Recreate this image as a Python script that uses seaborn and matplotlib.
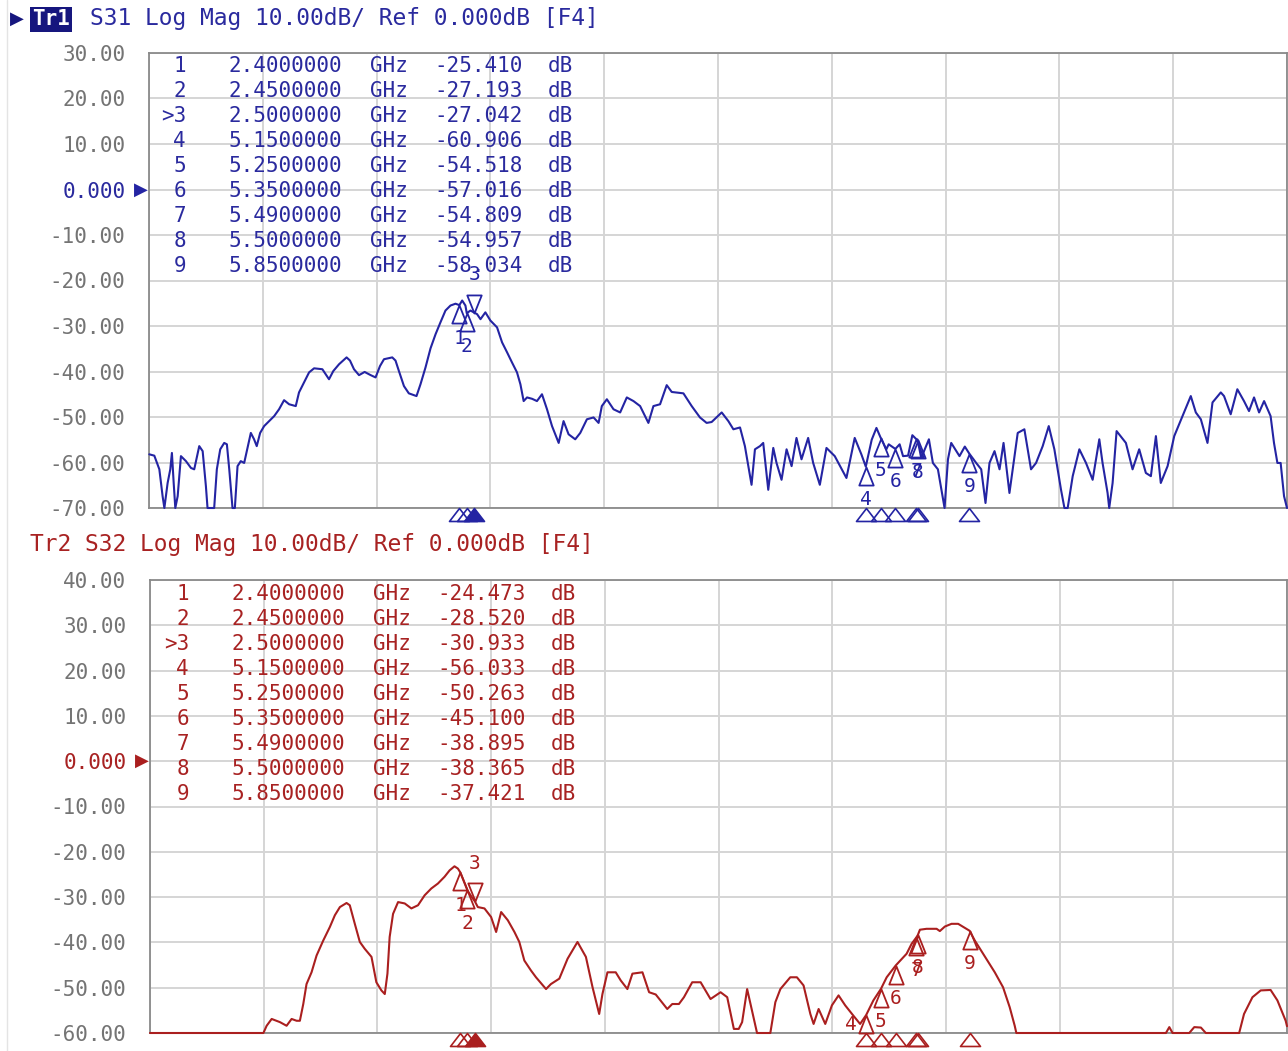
import numpy as np
import pandas as pd
import matplotlib
matplotlib.use("Agg")
import matplotlib.pyplot as plt
import matplotlib.transforms as mtransforms
from matplotlib.lines import Line2D
from matplotlib.path import Path
import seaborn as sns

# ---------------- measured traces (frequency in GHz, magnitude in dB) ----------------
s31_freq_ghz = [
    0.302, 0.336, 0.370, 0.392, 0.404, 0.426, 0.444, 0.455, 0.467, 0.478, 0.494, 0.516,
    0.550, 0.584, 0.606, 0.640, 0.663, 0.685, 0.696, 0.741, 0.759, 0.782, 0.809, 0.827,
    0.843, 0.865, 0.881, 0.899, 0.921, 0.944, 0.962, 0.989, 1.011, 1.029, 1.052, 1.079,
    1.113, 1.147, 1.180, 1.214, 1.248, 1.293, 1.315, 1.349, 1.383, 1.417, 1.473, 1.518,
    1.547, 1.586, 1.637, 1.660, 1.687, 1.721, 1.759, 1.800, 1.833, 1.863, 1.890, 1.946,
    1.968, 1.991, 2.025, 2.058, 2.110, 2.137, 2.171, 2.205, 2.239, 2.272, 2.306, 2.340,
    2.374, 2.419, 2.441, 2.475, 2.520, 2.543, 2.576, 2.610, 2.655, 2.689, 2.723, 2.756,
    2.790, 2.813, 2.835, 2.858, 2.892, 2.925, 2.959, 2.993, 3.027, 3.072, 3.105, 3.139,
    3.184, 3.218, 3.263, 3.308, 3.342, 3.364, 3.398, 3.443, 3.488, 3.533, 3.578, 3.623,
    3.679, 3.713, 3.758, 3.803, 3.837, 3.916, 3.972, 4.028, 4.073, 4.107, 4.175, 4.220,
    4.254, 4.299, 4.332, 4.355, 4.377, 4.400, 4.434, 4.456, 4.490, 4.524, 4.546, 4.580,
    4.614, 4.648, 4.681, 4.715, 4.760, 4.794, 4.839, 4.884, 4.940, 5.019, 5.075, 5.120,
    5.190, 5.222, 5.289, 5.305, 5.379, 5.402, 5.436, 5.465, 5.525, 5.577, 5.604, 5.638,
    5.683, 5.706, 5.728, 5.784, 5.820, 5.897, 5.931, 5.960, 5.987, 6.021, 6.055, 6.082,
    6.122, 6.178, 6.223, 6.268, 6.302, 6.347, 6.388, 6.426, 6.471, 6.494, 6.516, 6.550,
    6.595, 6.640, 6.685, 6.730, 6.752, 6.786, 6.797, 6.820, 6.847, 6.910, 6.955, 7.000,
    7.045, 7.079, 7.113, 7.146, 7.192, 7.237, 7.293, 7.349, 7.383, 7.417, 7.462, 7.496,
    7.552, 7.574, 7.619, 7.664, 7.709, 7.743, 7.777, 7.811, 7.845, 7.889, 7.912, 7.935,
    7.957, 7.980, 8.000,
]
s31_db = [
    -58.2, -58.5, -61.5, -67.4, -70.0, -64.5, -61.5, -57.9, -64.5, -70.0, -67.4, -58.6,
    -59.7, -61.2, -61.5, -56.4, -57.5, -65.2, -70.0, -70.0, -61.5, -57.1, -55.7, -56.0,
    -61.5, -70.0, -70.0, -60.8, -59.7, -60.1, -57.5, -53.5, -54.9, -56.4, -53.5, -52.0,
    -50.9, -49.8, -48.3, -46.3, -47.2, -47.6, -44.6, -42.4, -40.2, -39.3, -39.5, -41.7,
    -39.9, -38.4, -36.9, -37.6, -39.5, -40.8, -40.1, -40.8, -41.3, -38.8, -37.3, -36.9,
    -37.6, -39.9, -43.2, -44.8, -45.4, -42.8, -39.1, -34.9, -31.8, -29.2, -26.6, -25.5,
    -25.1, -24.4, -25.5, -26.6, -27.4, -28.5, -27.0, -28.8, -30.3, -33.6, -35.8, -38.0,
    -40.2, -42.8, -46.5, -45.7, -46.0, -46.5, -45.0, -48.3, -52.0, -55.7, -50.9, -53.8,
    -54.9, -53.5, -50.5, -50.1, -51.3, -47.6, -46.1, -48.3, -49.0, -45.7, -46.5, -47.6,
    -51.3, -47.6, -47.2, -43.0, -44.5, -44.8, -47.6, -50.1, -51.3, -51.1, -49.0, -50.9,
    -52.7, -52.3, -56.4, -60.8, -64.9, -57.1, -56.4, -55.7, -66.0, -56.8, -60.1, -63.8,
    -57.1, -60.8, -54.6, -59.3, -54.6, -60.1, -64.9, -56.8, -58.6, -63.4, -54.6, -58.2,
    -55.0, -52.4, -57.1, -56.0, -56.0, -58.6, -58.5, -54.0, -59.0, -54.9, -60.1, -61.5,
    -70.0, -59.3, -55.7, -58.6, -56.5, -60.1, -61.5, -68.9, -60.1, -57.5, -61.5, -55.7,
    -66.7, -53.5, -52.7, -61.5, -60.1, -56.4, -52.0, -57.1, -66.0, -70.0, -70.0, -63.0,
    -57.1, -60.1, -63.8, -54.9, -60.1, -66.7, -70.0, -64.5, -53.1, -55.7, -61.5, -57.1,
    -62.3, -63.0, -54.2, -64.5, -60.8, -54.2, -49.8, -45.4, -49.0, -50.5, -55.7, -46.8,
    -44.6, -45.4, -49.4, -43.9, -46.5, -48.7, -45.7, -49.0, -46.5, -49.8, -55.7, -60.1,
    -60.1, -67.4, -70.0,
]

s32_freq_ghz = [
    0.300, 1.068, 1.090, 1.124, 1.180, 1.225, 1.259, 1.293, 1.315, 1.338, 1.360, 1.394,
    1.428, 1.473, 1.518, 1.552, 1.586, 1.631, 1.653, 1.687, 1.721, 1.754, 1.800, 1.833,
    1.867, 1.890, 1.908, 1.923, 1.946, 1.980, 2.025, 2.070, 2.115, 2.160, 2.205, 2.250,
    2.295, 2.329, 2.362, 2.385, 2.425, 2.475, 2.520, 2.565, 2.610, 2.644, 2.678, 2.723,
    2.768, 2.801, 2.835, 2.880, 2.914, 2.982, 3.015, 3.072, 3.128, 3.195, 3.252, 3.297,
    3.342, 3.364, 3.398, 3.454, 3.488, 3.533, 3.567, 3.635, 3.680, 3.725, 3.803, 3.837,
    3.882, 3.916, 3.972, 4.029, 4.096, 4.164, 4.209, 4.254, 4.287, 4.310, 4.344, 4.377,
    4.411, 4.501, 4.535, 4.569, 4.636, 4.681, 4.726, 4.772, 4.794, 4.828, 4.873, 4.918,
    4.963, 5.008, 5.064, 5.109, 5.199, 5.289, 5.424, 5.458, 5.514, 5.559, 5.627, 5.649,
    5.683, 5.728, 5.773, 5.818, 5.886, 5.942, 6.021, 6.077, 6.122, 6.156, 6.167, 7.180,
    7.203, 7.225, 7.338, 7.372, 7.417, 7.450, 7.676, 7.709, 7.766, 7.822, 7.889, 7.935,
    7.991, 8.000,
]
s32_db = [
    -60.0, -60.0, -58.4, -56.9, -57.6, -58.4, -56.9, -57.3, -57.3, -53.6, -49.2, -46.6,
    -42.9, -39.6, -36.6, -34.0, -32.2, -31.3, -31.8, -35.9, -39.9, -41.4, -43.2, -48.8,
    -50.6, -51.4, -46.9, -38.8, -33.7, -31.1, -31.4, -32.5, -31.8, -29.6, -28.1, -27.0,
    -25.5, -24.1, -23.2, -23.7, -26.5, -29.8, -32.2, -32.5, -34.4, -37.7, -33.3, -35.1,
    -37.7, -39.9, -44.0, -46.2, -47.7, -50.3, -49.2, -48.0, -43.6, -39.9, -43.2, -49.9,
    -55.8, -51.4, -46.6, -46.6, -48.4, -50.3, -46.9, -46.6, -51.0, -51.5, -54.7, -53.6,
    -53.6, -52.1, -48.8, -48.8, -52.5, -51.0, -52.1, -59.1, -59.1, -57.6, -50.3, -55.1,
    -60.0, -60.0, -53.2, -50.3, -47.7, -47.7, -49.5, -55.8, -58.0, -54.7, -58.0, -53.9,
    -51.7, -53.9, -56.2, -58.0, -52.8, -47.7, -42.5, -40.3, -37.2, -37.0, -37.0, -37.5,
    -36.5, -35.9, -35.9, -36.8, -39.6, -42.5, -46.6, -49.9, -54.3, -58.4, -60.0, -60.0,
    -58.7, -60.0, -60.0, -58.7, -58.8, -60.0, -60.0, -55.8, -52.1, -50.6, -50.5, -52.8,
    -57.3, -58.5,
]

# ---------------- marker readouts ----------------
marker_ids = ["1", "2", ">3", "4", "5", "6", "7", "8", "9"]
marker_freq_ghz = [2.40, 2.45, 2.50, 5.15, 5.25, 5.35, 5.49, 5.50, 5.85]
marker_freq_text = ["2.4000000", "2.4500000", "2.5000000", "5.1500000", "5.2500000",
                    "5.3500000", "5.4900000", "5.5000000", "5.8500000"]
s31_marker_db = [-25.410, -27.193, -27.042, -60.906, -54.518, -57.016, -54.809, -54.957, -58.034]
s32_marker_db = [-24.473, -28.520, -30.933, -56.033, -50.263, -45.100, -38.895, -38.365, -37.421]
active_marker = 3

start_ghz, stop_ghz = 0.3, 8.0

BLUE = "#2424a3"
BLUE_TEXT = "#2a2a9e"
NAVY = "#16167e"
RED = "#aa1f1f"
RED_TEXT = "#a82222"
GRID = "#d5d5d5"
FRAME = "#8a8a8a"
TICK = "#747474"

sns.set_theme(style="white")
plt.rcParams["font.family"] = ["DejaVu Sans Mono", "DejaVu Sans"]

W, H = 1288, 1051
fig = plt.figure(figsize=(W / 100, H / 100), dpi=100)
fig.patch.set_facecolor("white")


def axes_px(x0, y0, x1, y1):
    return fig.add_axes([x0 / W, 1 - y1 / H, (x1 - x0) / W, (y1 - y0) / H])


def fx(x):
    return x / W


def fy(y):
    return 1 - y / H


codes = [Path.MOVETO, Path.LINETO, Path.LINETO, Path.CLOSEPOLY]
TRI_UP = Path([(0, 0), (0.40, -1), (-0.40, -1), (0, 0)], codes)      # apex on the point, body below
TRI_DOWN = Path([(0, 0), (0.40, 1), (-0.40, 1), (0, 0)], codes)      # apex on the point, body above
FLAG = Path([(0, 0), (0.77, -1), (-0.77, -1), (0, 0)], codes)        # stimulus flag under the grid


def draw_panel(ax, freq, db, mk_db, color, text_color, ylo, yhi):
    df = pd.DataFrame({
        "freq": list(freq) + list(marker_freq_ghz),
        "db": list(db) + list(mk_db),
    }).sort_values("freq")
    sns.lineplot(data=df, x="freq", y="db", ax=ax, color=color, linewidth=1.5,
                 estimator=None, sort=False, zorder=3)
    ax.lines[-1].set_clip_on(False)

    ax.set_xlim(start_ghz, stop_ghz)
    ax.set_ylim(ylo, yhi)
    ax.set_xlabel("")
    ax.set_ylabel("")
    ax.set_xticks(np.linspace(start_ghz, stop_ghz, 11))
    ax.set_xticklabels([])
    yt = list(range(ylo, yhi + 1, 10))
    ax.set_yticks(yt)
    ax.set_yticklabels(["0.000" if v == 0 else f"{v:.2f}" for v in yt])
    ax.tick_params(axis="x", length=0)
    ax.tick_params(axis="y", length=0, pad=17, labelsize=15, labelcolor=TICK)
    for lbl, v in zip(ax.get_yticklabels(), yt):
        if v == 0:
            lbl.set_color(text_color)
    ax.grid(True, color=GRID, linewidth=1.4)
    ax.set_axisbelow(True)
    for s in ax.spines.values():
        s.set_color(FRAME)
        s.set_linewidth(1.3)
        s.set_visible(True)

    # reference level pointer
    ref_tr = mtransforms.blended_transform_factory(ax.transAxes, ax.transData)
    ax.text(-8 / 1138, 0, "\u25B6", transform=ref_tr, ha="center", va="center",
            color=color, fontsize=13, family="DejaVu Sans", clip_on=False)

    # pixel height of one dB, used to keep marker numbers inside the window
    px_per_db = ax.get_position().height * H / (yhi - ylo)

    # markers on the trace and flags under the grid
    flag_tr = mtransforms.blended_transform_factory(ax.transData, ax.transAxes)
    for i, (f, v) in enumerate(zip(marker_freq_ghz, mk_db)):
        num = i + 1
        if num == active_marker:
            ax.plot([f], [v], marker=TRI_DOWN, ms=26, mfc="none", mec=color, mew=1.3,
                    ls="none", clip_on=False, zorder=4)
            ax.annotate(str(num), (f, v), xytext=(0, 38), textcoords="offset pixels",
                        ha="center", va="center", color=color, fontsize=14,
                        annotation_clip=False, zorder=4)
            ax.plot([f], [0], marker=FLAG, ms=18.7, mfc=color, mec=color, mew=1.2,
                    ls="none", transform=flag_tr, clip_on=False, zorder=5)
        else:
            ax.plot([f], [v], marker=TRI_UP, ms=26, mfc="none", mec=color, mew=1.3,
                    ls="none", clip_on=False, zorder=4)
            room = (v - ylo) * px_per_db
            offset = (0, -33) if room > 28 else (-15, -9)
            ax.annotate(str(num), (f, v), xytext=offset, textcoords="offset pixels",
                        ha="center", va="center", color=color, fontsize=14,
                        annotation_clip=False, zorder=4)
            ax.plot([f], [0], marker=FLAG, ms=18.7, mfc="none", mec=color, mew=1.2,
                    ls="none", transform=flag_tr, clip_on=False, zorder=5)


def marker_table(mk_db, color, y0, dx):
    for i, (mid, ftxt, v) in enumerate(zip(marker_ids, marker_freq_text, mk_db)):
        y = fy(y0 + 25 * i)
        fig.text(fx(186 + dx), y, mid, ha="right", va="center", color=color, fontsize=15)
        fig.text(fx(285 + dx), y, ftxt, ha="center", va="center", color=color, fontsize=15)
        fig.text(fx(389 + dx), y, "GHz", ha="center", va="center", color=color, fontsize=15)
        fig.text(fx(479 + dx), y, f"{v:.3f}", ha="center", va="center", color=color, fontsize=15)
        fig.text(fx(560 + dx), y, "dB", ha="center", va="center", color=color, fontsize=15)


ax1 = axes_px(149, 53, 1287, 508)
ax2 = axes_px(150, 580, 1287, 1033)

draw_panel(ax1, s31_freq_ghz, s31_db, s31_marker_db, BLUE, BLUE_TEXT, -70, 30)
draw_panel(ax2, s32_freq_ghz, s32_db, s32_marker_db, RED, RED_TEXT, -60, 40)

marker_table(s31_marker_db, BLUE_TEXT, 66, 0)
marker_table(s32_marker_db, RED_TEXT, 594, 3)

# trace headers
fig.text(fx(17), fy(19), "\u25B6", ha="center", va="center", color=NAVY, fontsize=13,
         family="DejaVu Sans")
fig.text(fx(51), fy(19), "Tr1", ha="center", va="center", color="white", fontsize=15,
         fontweight="bold",
         bbox=dict(boxstyle="square,pad=0.12", facecolor=NAVY, edgecolor="none"))
fig.text(fx(90), fy(19), "S31 Log Mag 10.00dB/ Ref 0.000dB [F4]", ha="left", va="center",
         color=BLUE_TEXT, fontsize=16.5)
fig.text(fx(30), fy(544), "Tr2 S32 Log Mag 10.00dB/ Ref 0.000dB [F4]", ha="left",
         va="center", color=RED_TEXT, fontsize=16.5)

# window edge
fig.add_artist(Line2D([fx(7), fx(7)], [0, 1], color="#e4e4e4", linewidth=1.0))

fig.savefig("out.png", dpi=100, facecolor="white")
